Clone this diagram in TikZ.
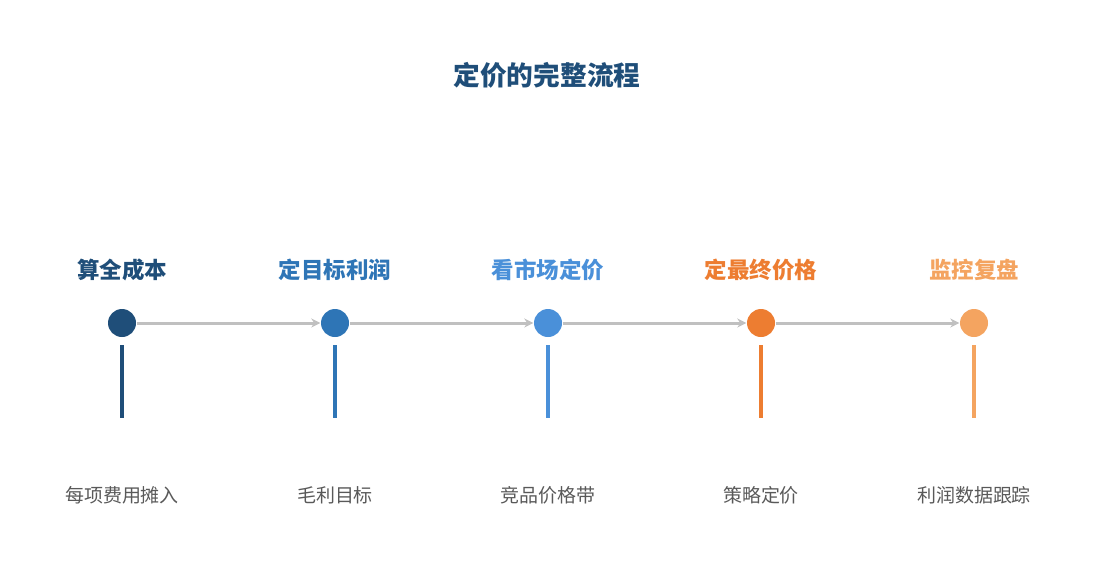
\documentclass[tikz,border=0pt]{standalone}
\usepackage{fontspec}
\newfontfamily\cjk{Noto Sans CJK SC}
\usetikzlibrary{arrows.meta}
\definecolor{cA}{HTML}{1F4E79}
\definecolor{cB}{HTML}{2E75B6}
\definecolor{cC}{HTML}{4A90D9}
\definecolor{cD}{HTML}{ED7D31}
\definecolor{cE}{HTML}{F4A460}
\definecolor{lineg}{HTML}{C0C0C0}
\definecolor{textg}{HTML}{595959}
\tikzset{
  dot/.style={circle, fill=#1, minimum size=0.28cm, inner sep=0pt},
  step/.style={font=\cjk\bfseries\fontsize{6.4}{7}\selectfont, text=#1},
  note/.style={font=\cjk\fontsize{5.4}{6}\selectfont, text=textg},
  link/.style={draw=lineg, line width=0.85pt, -{Stealth[length=0.09cm,width=0.09cm]}}
}
\begin{document}
\begin{tikzpicture}
        \useasboundingbox (0,0) rectangle (10.95,5.85);
        \node[font=\cjk\bfseries\fontsize{7.6}{8}\selectfont, text=cA] (title) at (5.47,5.10) {定价的完整流程};

        \foreach \i/\x/\c/\t/\n in {1/1.22/cA/算全成本/每项费用摊入, 2/3.35/cB/定目标利润/毛利目标, 3/5.48/cC/看市场定价/竞品价格带, 4/7.61/cD/定最终价格/策略定价, 5/9.74/cE/监控复盘/利润数据跟踪} {
            \node[step=\c] (s\i) at (\x,3.15) {\t};
            \node[dot=\c] (d\i) at (\x,2.62) {};
            \coordinate (top\i) at (\x,2.40);
            \coordinate (bot\i) at (\x,1.67);
            \draw[\c, line width=1.1pt] (top\i) -- (bot\i);
            \node[note] (n\i) at (\x,0.90) {\n};
        }

        \draw[link] (d1) -- (d2);
        \draw[link] (d2) -- (d3);
        \draw[link] (d3) -- (d4);
        \draw[link] (d4) -- (d5);
        
    \end{tikzpicture}
\end{document}
